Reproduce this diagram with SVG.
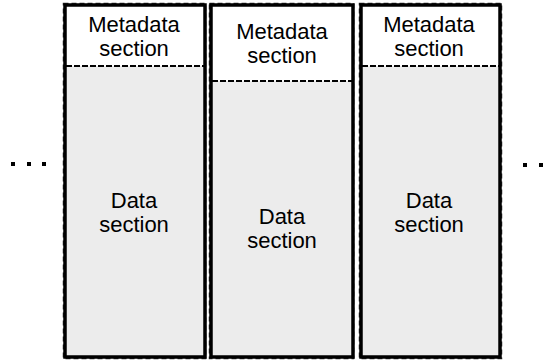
<svg xmlns="http://www.w3.org/2000/svg" width="545" height="362" viewBox="0 0 545 362">
<style>
.data{fill:#ececec;stroke:none}
.meta{fill:#ffffff;stroke:none}
.frame{fill:none;stroke:#000;stroke-width:3.5}
.dash{fill:none;stroke:#333;stroke-width:1.5;stroke-dasharray:5,3}
.div{stroke:#000;stroke-width:2;stroke-dasharray:6,2}
text{font-family:"Liberation Sans",Arial,sans-serif;font-size:22px;fill:#000;text-anchor:middle}
.dot{fill:#000}
</style>
<g id="block1">
<rect class="meta" x="64.5" y="4.5" width="141" height="62"/>
<rect class="data" x="64.5" y="66" width="141" height="291.5"/>
<rect class="dash" x="63.5" y="3.5" width="142" height="355"/>
<rect class="frame" x="65" y="5" width="140" height="352"/>
<line class="div" x1="66" y1="66" x2="204" y2="66"/>
<text x="134" y="32">Metadata</text>
<text x="134" y="56">section</text>
<text x="134" y="208">Data</text>
<text x="134" y="232">section</text>
</g>
<g id="block2">
<rect class="meta" x="210.5" y="4.5" width="143" height="77"/>
<rect class="data" x="210.5" y="81" width="143" height="276.5"/>
<rect class="dash" x="209.5" y="3.5" width="144" height="355"/>
<rect class="frame" x="211" y="5" width="142" height="352"/>
<line class="div" x1="212" y1="81" x2="352" y2="81"/>
<text x="282" y="39">Metadata</text>
<text x="282" y="63">section</text>
<text x="282" y="224">Data</text>
<text x="282" y="248">section</text>
</g>
<g id="block3">
<rect class="meta" x="360.5" y="4.5" width="140" height="62"/>
<rect class="data" x="360.5" y="66" width="140" height="291.5"/>
<rect class="dash" x="359.5" y="3.5" width="142" height="355"/>
<rect class="frame" x="361" y="5" width="139" height="352"/>
<line class="div" x1="362" y1="66" x2="499" y2="66"/>
<text x="429" y="32">Metadata</text>
<text x="429" y="56">section</text>
<text x="429" y="208">Data</text>
<text x="429" y="232">section</text>
</g>
<g id="ellipsis-left">
<rect class="dot" x="11" y="162" width="4" height="4"/>
<rect class="dot" x="27" y="162" width="4" height="4"/>
<rect class="dot" x="42" y="162" width="4" height="4"/>
</g>
<g id="ellipsis-right">
<rect class="dot" x="523" y="163" width="4" height="4"/>
<rect class="dot" x="539" y="163" width="4" height="4"/>
</g>
<g id="connectors"></g>
</svg>
